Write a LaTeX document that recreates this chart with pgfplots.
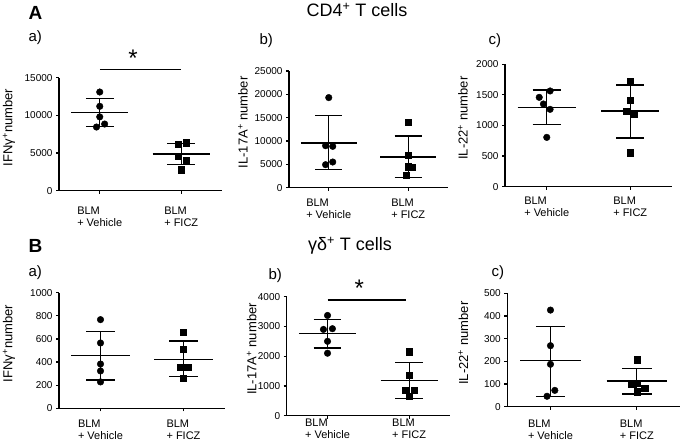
\documentclass[border=0pt]{standalone}
\usepackage{fontspec}
\setmainfont{Liberation Sans}
\usepackage{pgfplots}
\pgfplotsset{compat=1.18}
\pgfplotsset{
  panel/.style={
    scale only axis, anchor=south west, clip=false,
    axis x line*=bottom, axis y line*=left,
    axis line style={line width=1.2pt,-},
    xmin=-0.5, xmax=1.5, ymin=0,
    xtick={0,1},
    xticklabels={{BLM\\+ Vehicle},{BLM\\+ FICZ}},
    xticklabel style={align=left, font=\fontsize{11}{12}\selectfont},
    yticklabel style={font=\fontsize{10}{10}\selectfont},
    tick align=outside, major tick length=3pt,
    tick style={line width=1.2pt, black},
    /pgf/number format/assume math mode=true,
    /pgf/number format/set thousands separator={},
    scaled y ticks=false,
    ylabel style={font=\fontsize{13}{15}\selectfont, at={(axis description cs:0,0.56)}, anchor=center},
  },
  ylabshift/.style={ylabel style={yshift=#1}},
  xlabshift/.style={xticklabel style={yshift=#1}},
  dot/.style={only marks, mark=*, mark size=3.3pt, black},
  sq/.style={only marks, mark=square*, mark size=3.1pt, black},
  msd/.style={black, line width=1.3pt, no marks},
}
\newcommand{\meansd}[4]{%
  \addplot[msd] coordinates {(#1-0.35,#2) (#1+0.35,#2)};
  \addplot[msd] coordinates {(#1,#3) (#1,#4)};
  \addplot[msd] coordinates {(#1-0.17,#3) (#1+0.17,#3)};
  \addplot[msd] coordinates {(#1-0.17,#4) (#1+0.17,#4)};
}
\begin{document}
\begin{tikzpicture}
\useasboundingbox (0,0) rectangle (685pt,443pt);
% ---------- A a
\begin{axis}[panel, at={(59pt,252.3pt)}, width=163pt, height=113pt,
  ymax=15000, ytick={0,5000,10000,15000},
  ylabel={IFNγ\textsuperscript{+}number}, ylabshift=50pt, xlabshift=-10pt]
\addplot[dot] coordinates {(0,13100) (0,11200) (0,9800) (-0.04,8450) (0.06,8850)};
\addplot[sq] coordinates {(1-0.04,6150) (1.06,6370) (1-0.04,4560) (1.06,4100) (1,2790)};
\meansd{0}{10350}{8500}{12260}
\meansd{1}{4870}{3450}{6280}
\addplot[msd] coordinates {(0,16050) (1,16050)};
\node[font=\fontsize{24}{24}\selectfont] at (axis cs:0.41,17600) {*};
\end{axis}
% ---------- A b
\begin{axis}[panel, at={(289pt,255.3pt)}, width=159pt, height=116.7pt,
  ymax=25000, ytick={0,5000,10000,15000,20000,25000},
  ylabel={IL-17A\textsuperscript{+} number}, ylabshift=46pt, xlabshift=-5pt]
\addplot[dot] coordinates {(0,19300) (-0.04,9000) (0.05,8860) (0.05,5500) (-0.04,4930)};
\addplot[sq] coordinates {(1,14070) (1,7000) (1,4500) (1.05,4360) (1-0.03,2700)};
\meansd{0}{9570}{3860}{15400}
\meansd{1}{6570}{2140}{11070}
\end{axis}
% ---------- A c
\begin{axis}[panel, at={(505pt,256.3pt)}, width=167pt, height=122.4pt,
  ymax=2000, ytick={0,500,1000,1500,2000},
  ylabel={IL-22\textsuperscript{+} number}, ylabshift=42pt, xlabshift=-4pt]
\addplot[dot] coordinates {(-0.09,1460) (0.04,1564) (-0.04,1351) (0.04,1264) (0,806)};
\addplot[sq] coordinates {(1,1717) (1,1417) (1-0.05,1237) (1.05,1188) (1,556)};
\meansd{0}{1292}{1014}{1580}
\meansd{1}{1237}{796}{1662}
\end{axis}
% ---------- B a
\begin{axis}[panel, at={(59pt,34.7pt)}, width=166pt, height=115.6pt,
  ymax=1000, ytick={0,200,400,600,800,1000},
  ylabel={IFNγ\textsuperscript{+}number}, ylabshift=50pt, xlabshift=-5pt]
\addplot[dot] coordinates {(0,767) (0,565) (0,383) (0,323) (0,228)};
\addplot[sq] coordinates {(1,655) (1,510) (1-0.04,355) (1.05,355) (1,257)};
\meansd{0}{456}{245}{666}
\meansd{1}{424}{274}{582}
\end{axis}
% ---------- B b
\begin{axis}[panel, at={(286.7pt,27.3pt)}, width=163.3pt, height=119pt,
  ymax=4000, ytick={0,1000,2000,3000,4000},
  ylabel={IL-17A\textsuperscript{+} number}, ylabshift=35pt, xlabshift=3pt]
\addplot[dot] coordinates {(0,3370) (-0.05,2900) (0.06,2925) (0,2500) (0,2100)};
\addplot[sq] coordinates {(1,2150) (1,1350) (1-0.05,850) (1.06,850) (1,650)};
\meansd{0}{2756}{2276}{3236}
\meansd{1}{1180}{580}{1780}
\addplot[msd] coordinates {(0,3890) (0.96,3890)};
\node[font=\fontsize{24}{24}\selectfont] at (axis cs:0.39,4270) {*};
\end{axis}
% ---------- B c
\begin{axis}[panel, at={(507.3pt,36.3pt)}, width=172.7pt, height=113.4pt,
  ymax=500, ytick={0,100,200,300,400,500},
  ylabel={IL-22\textsuperscript{+} number}, ylabshift=44pt, xlabshift=-7pt]
\addplot[dot] coordinates {(0,426) (0,269) (0,187) (0.05,72) (-0.04,46)};
\addplot[sq] coordinates {(1,207) (1-0.06,98) (1,103) (1.09,81) (1,66)};
\meansd{0}{203}{46}{354}
\meansd{1}{113}{56}{168}
\end{axis}
% ---------- labels
\node[anchor=base west, font=\fontsize{19}{19}\selectfont\bfseries] at (25pt,423pt) {A};
\node[anchor=base west, font=\fontsize{19}{19}\selectfont\bfseries] at (25pt,190pt) {B};
\node[anchor=base, font=\fontsize{18}{18}\selectfont] at (357pt,426pt) {CD4\textsuperscript{+} T cells};
\node[anchor=base, font=\fontsize{18}{18}\selectfont] at (350pt,192pt) {γδ\textsuperscript{+} T cells};
\node[anchor=base west, font=\fontsize{15}{15}\selectfont] at (25pt,401pt) {a)};
\node[anchor=base west, font=\fontsize{15}{15}\selectfont] at (256pt,398pt) {b)};
\node[anchor=base west, font=\fontsize{15}{15}\selectfont] at (485pt,398pt) {c)};
\node[anchor=base west, font=\fontsize{15}{15}\selectfont] at (25pt,166pt) {a)};
\node[anchor=base west, font=\fontsize{15}{15}\selectfont] at (265pt,163pt) {b)};
\node[anchor=base west, font=\fontsize{15}{15}\selectfont] at (488pt,166pt) {c)};
\end{tikzpicture}
\end{document}
